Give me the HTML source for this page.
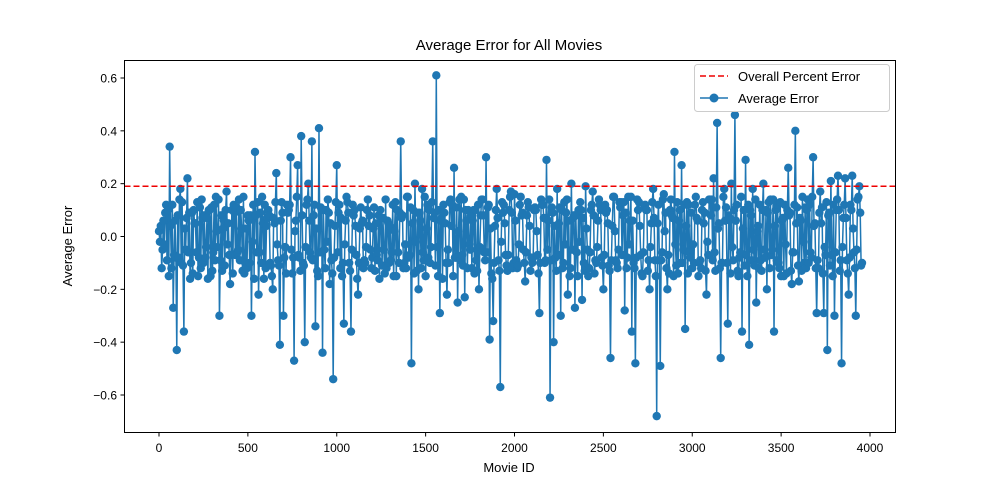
<!DOCTYPE html>
<html><head><meta charset="utf-8"><style>
body{margin:0;background:#fff;}
svg text{font-family:"Liberation Sans","DejaVu Sans",sans-serif;fill:#000;}
</style></head><body>
<svg id="chart" width="994" height="486" viewBox="0 0 994 486">
<rect width="994" height="486" fill="#fff"/>
<text x="509" y="50" font-size="15" text-anchor="middle">Average Error for All Movies</text>
<g id="plot"></g>
<rect x="124.5" y="60.5" width="771" height="372" fill="none" stroke="#000" stroke-width="1"/>
<g id="xticks"></g><g id="yticks"></g>
<text x="509" y="472" font-size="13" text-anchor="middle">Movie ID</text>
<text transform="translate(72,246) rotate(-90)" font-size="13" text-anchor="middle">Average Error</text>
<g>
<rect x="694.5" y="64.5" width="195" height="47" rx="3" fill="#fff" fill-opacity="0.8" stroke="#ccc"/>
<line x1="700" y1="76" x2="728" y2="76" stroke="#e00" stroke-width="1.6" stroke-dasharray="6,3"/>
<text x="738" y="81" font-size="13">Overall Percent Error</text>
<line x1="700" y1="98" x2="728" y2="98" stroke="#1f77b4" stroke-width="1.6"/>
<circle cx="714" cy="98" r="4.5" fill="#1f77b4"/>
<text x="738" y="103" font-size="13">Average Error</text>
</g>
</svg>
<script>
// main samples at ids 0,20,40,...
const avgErrors = [
0.02,-0.05,0.12,0.34,-0.27,-0.43,0.18,-0.36,0.22,-0.1,
0.05,-0.15,0.14,-0.08,0.1,-0.13,0.15,-0.3,0.03,0.17,
-0.18,0.12,-0.06,0.1,-0.14,0.08,-0.3,0.32,-0.22,0.15,
-0.12,0.08,-0.2,0.24,-0.41,-0.3,0.12,0.3,-0.47,0.27,
0.38,-0.4,0.2,0.36,-0.34,0.41,-0.44,0.1,-0.18,-0.54,
0.27,-0.12,-0.33,0.13,-0.36,0.1,-0.22,0.05,-0.1,0.04,
-0.08,0.05,-0.16,0.07,-0.12,0.04,-0.15,0.1,0.36,-0.1,
0.15,-0.48,0.2,-0.2,0.18,-0.15,0.1,0.36,0.61,-0.29,
0.12,-0.22,0.14,0.26,-0.25,0.15,-0.23,0.1,-0.12,0.1,
-0.2,0.14,0.3,-0.39,-0.32,0.18,-0.57,0.12,-0.13,0.17,
0.16,-0.11,0.08,-0.17,0.11,-0.1,0.1,-0.29,0.12,0.29,
-0.61,-0.4,0.18,-0.3,0.13,-0.22,0.2,-0.27,0.1,-0.24,
0.19,-0.12,0.17,-0.1,0.12,-0.2,0.1,-0.46,0.15,-0.12,
0.13,-0.28,0.15,-0.36,-0.48,0.13,-0.15,0.1,-0.2,0.18,
-0.68,-0.49,0.16,-0.2,0.14,0.32,-0.14,0.27,-0.35,0.12,
-0.12,0.15,-0.1,0.13,-0.22,0.14,0.22,0.43,-0.46,0.18,
-0.33,0.2,0.46,-0.15,-0.36,0.29,-0.41,0.18,-0.25,0.12,
0.2,-0.2,0.14,-0.36,0.12,-0.15,0.12,0.26,-0.18,0.4,
-0.17,0.15,-0.12,0.12,0.3,-0.29,0.17,-0.29,-0.43,0.21,
-0.3,0.23,-0.48,0.22,-0.22,0.23,-0.3,0.19];
// samples at ids 10,30,50,...
const avgErrorsB = [
0.04,-0.03,0.1,-0.12,0.06,-0.08,0.13,-0.05,0.09,-0.14,
-0.06,0.11,-0.1,0.07,-0.15,0.12,-0.04,0.08,-0.11,0.05,
0.1,-0.07,0.14,-0.13,0.03,-0.1,0.12,-0.06,0.09,-0.16,
0.07,-0.11,0.05,-0.09,0.13,-0.04,0.1,-0.14,0.06,-0.08,
-0.1,0.12,-0.06,0.08,-0.13,0.11,-0.05,0.14,-0.09,0.04,
0.09,-0.15,0.06,-0.1,0.12,-0.07,0.03,-0.12,0.1,-0.05,
0.11,-0.09,0.07,-0.14,0.05,-0.06,0.13,-0.1,0.08,-0.12,
-0.07,0.1,-0.13,0.06,-0.09,0.12,-0.04,0.09,-0.15,0.07,
0.05,-0.1,0.12,-0.08,0.14,-0.11,0.06,-0.05,0.1,-0.13,
0.08,-0.06,0.11,-0.14,0.04,-0.09,0.13,-0.07,0.1,-0.12,
-0.09,0.12,-0.05,0.08,-0.13,0.1,-0.07,0.14,-0.1,0.06,
0.11,-0.08,0.05,-0.12,0.09,-0.15,0.07,-0.06,0.13,-0.1,
-0.05,0.1,-0.14,0.06,-0.08,0.12,-0.11,0.04,-0.09,0.13,
0.08,-0.12,0.06,-0.1,0.14,-0.07,0.11,-0.13,0.05,-0.09,
0.12,-0.06,0.09,-0.14,0.07,-0.11,0.1,-0.05,0.13,-0.08,
-0.1,0.06,-0.12,0.09,-0.07,0.14,-0.13,0.05,-0.1,0.11,
0.07,-0.09,0.12,-0.06,0.1,-0.15,0.08,-0.11,0.04,-0.13,
-0.08,0.13,-0.05,0.1,-0.12,0.07,-0.14,0.09,-0.06,0.11,
0.06,-0.1,0.14,-0.08,0.05,-0.12,0.11,-0.07,0.09,-0.15,
0.1,-0.13,0.07,-0.09,0.12,-0.06,0.14,-0.11];
// samples at ids 5,25,45,...
const avgErrorsC = [
-0.02,0.06,-0.09,0.04,-0.07,0.08,-0.1,0.03,-0.06,0.09,
0.05,-0.08,0.07,-0.04,0.1,-0.06,0.02,-0.09,0.06,-0.03,
-0.07,0.09,-0.05,0.03,-0.1,0.06,-0.02,0.08,-0.06,0.05,
0.04,-0.1,0.07,-0.03,0.06,-0.08,0.09,-0.05,0.02,-0.07,
0.08,-0.04,0.06,-0.09,0.03,-0.06,0.1,-0.02,0.05,-0.08,
-0.06,0.07,-0.03,0.09,-0.05,0.04,-0.1,0.06,-0.04,0.08,
0.03,-0.07,0.1,-0.05,0.06,-0.09,0.02,-0.06,0.07,-0.03,
-0.08,0.05,-0.02,0.09,-0.06,0.03,-0.1,0.07,-0.04,0.06,
0.09,-0.05,0.04,-0.08,0.02,-0.07,0.1,-0.03,0.06,-0.09,
-0.04,0.08,-0.06,0.03,-0.1,0.07,-0.02,0.05,-0.07,0.09,
0.06,-0.03,0.09,-0.06,0.04,-0.08,0.02,-0.1,0.07,-0.05,
-0.09,0.04,-0.07,0.1,-0.03,0.06,-0.05,0.08,-0.02,0.07,
0.03,-0.06,0.08,-0.04,0.1,-0.07,0.05,-0.09,0.02,-0.05,
-0.07,0.09,-0.03,0.06,-0.08,0.04,-0.06,0.1,-0.04,0.07,
0.05,-0.09,0.02,-0.07,0.08,-0.03,0.06,-0.1,0.04,-0.06,
-0.03,0.07,-0.09,0.05,-0.02,0.08,-0.06,0.03,-0.1,0.06,
0.08,-0.04,0.06,-0.08,0.03,-0.07,0.1,-0.05,0.02,-0.09,
-0.05,0.09,-0.07,0.04,-0.1,0.06,-0.03,0.08,-0.06,0.05,
0.07,-0.02,0.1,-0.06,0.04,-0.09,0.05,-0.04,0.08,-0.07,
-0.06,0.1,-0.04,0.07,-0.08,0.03,-0.05,0.09];
// samples at ids 15,35,55,...
const avgErrorsD = [
-0.12,0.09,-0.15,0.12,-0.08,0.14,-0.11,0.07,-0.16,0.1,
0.13,-0.12,0.08,-0.16,0.11,-0.09,0.14,-0.13,0.1,-0.07,
-0.14,0.11,-0.09,0.15,-0.12,0.08,-0.16,0.13,-0.1,0.12,
0.1,-0.15,0.13,-0.11,0.09,-0.14,0.12,-0.08,0.15,-0.13,
-0.11,0.14,-0.08,0.12,-0.15,0.1,-0.12,0.09,-0.14,0.13,
0.12,-0.1,0.15,-0.13,0.08,-0.16,0.11,-0.09,0.14,-0.12,
-0.13,0.08,-0.11,0.14,-0.1,0.12,-0.15,0.09,-0.12,0.15,
0.11,-0.14,0.09,-0.12,0.15,-0.08,0.13,-0.11,0.1,-0.16,
-0.1,0.13,-0.15,0.11,-0.09,0.14,-0.12,0.08,-0.14,0.12,
0.14,-0.09,0.12,-0.16,0.1,-0.13,0.09,-0.11,0.15,-0.1,
-0.12,0.15,-0.1,0.13,-0.08,0.11,-0.14,0.12,-0.09,0.14,
0.09,-0.13,0.11,-0.1,0.14,-0.12,0.08,-0.15,0.1,-0.13,
-0.15,0.12,-0.09,0.14,-0.11,0.09,-0.13,0.15,-0.1,0.11,
0.13,-0.08,0.15,-0.12,0.1,-0.14,0.12,-0.09,0.13,-0.15,
-0.09,0.14,-0.12,0.1,-0.15,0.13,-0.1,0.12,-0.14,0.09,
0.12,-0.15,0.1,-0.13,0.14,-0.09,0.11,-0.12,0.15,-0.1,
-0.14,0.1,-0.13,0.15,-0.11,0.12,-0.09,0.14,-0.12,0.1,
0.1,-0.12,0.14,-0.09,0.13,-0.15,0.1,-0.13,0.12,-0.11,
-0.13,0.11,-0.1,0.15,-0.12,0.09,-0.14,0.13,-0.11,0.12,
0.14,-0.09,0.12,-0.14,0.1,-0.12,0.15,-0.1];
const overallError = 0.19;
const xTickValues = [0,500,1000,1500,2000,2500,3000,3500,4000];
const yTickValues = [-0.6,-0.4,-0.2,0.0,0.2,0.4,0.6];

const movieIds = [], errors = [];
for (let i = 0; i < avgErrors.length; i++) {
  movieIds.push(i * 20); errors.push(avgErrors[i]);
  if (i < avgErrorsC.length) { movieIds.push(i * 20 + 5); errors.push(avgErrorsC[i]); }
  if (i < avgErrorsB.length) { movieIds.push(i * 20 + 10); errors.push(avgErrorsB[i]); }
  if (i < avgErrorsD.length) { movieIds.push(i * 20 + 15); errors.push(avgErrorsD[i]); }
}

const NS = "http://www.w3.org/2000/svg";
const xs = v => 159 + v * (711 / 4000);
const ys = v => 236.5 - v * (317 / 1.2);
const plot = document.getElementById('plot');
function mk(tag, attrs, parent) { const e = document.createElementNS(NS, tag); for (const k in attrs) e.setAttribute(k, attrs[k]); parent.appendChild(e); return e; }

let d = '';
for (let i = 0; i < movieIds.length; i++) d += (i ? 'L' : 'M') + xs(movieIds[i]).toFixed(2) + ',' + ys(errors[i]).toFixed(2);
const path = mk('path', { d: d, fill: 'none', stroke: '#1f77b4', 'stroke-width': 1.5 }, plot);


for (let i = 0; i < movieIds.length; i++) {
  const c = mk('circle', { cx: xs(movieIds[i]), cy: ys(errors[i]), r: 4.2, fill: '#1f77b4' }, plot);
  
  
}
const ol = mk('line', { x1: 124.5, x2: 895.5, y1: ys(overallError), y2: ys(overallError), stroke: '#e00', 'stroke-width': 1.5, 'stroke-dasharray': '6,3' }, plot);



const xt = document.getElementById('xticks');
xTickValues.forEach(v => {
  const x = xs(v);
  mk('line', { x1: x, x2: x, y1: 432.5, y2: 436.5, stroke: '#000' }, xt);
  const t = mk('text', { x: x, y: 452, 'font-size': 12, 'text-anchor': 'middle' }, xt);
  t.textContent = String(v);
  
  
});
const yt = document.getElementById('yticks');
yTickValues.forEach(v => {
  const y = ys(v);
  mk('line', { x1: 120.5, x2: 124.5, y1: y, y2: y, stroke: '#000' }, yt);
  const t = mk('text', { x: 117, y: y + 4.5, 'font-size': 12, 'text-anchor': 'end' }, yt);
  t.textContent = (v < 0 ? '\u2212' : '') + Math.abs(v).toFixed(1);
  
  
});
</script>
</body></html>
